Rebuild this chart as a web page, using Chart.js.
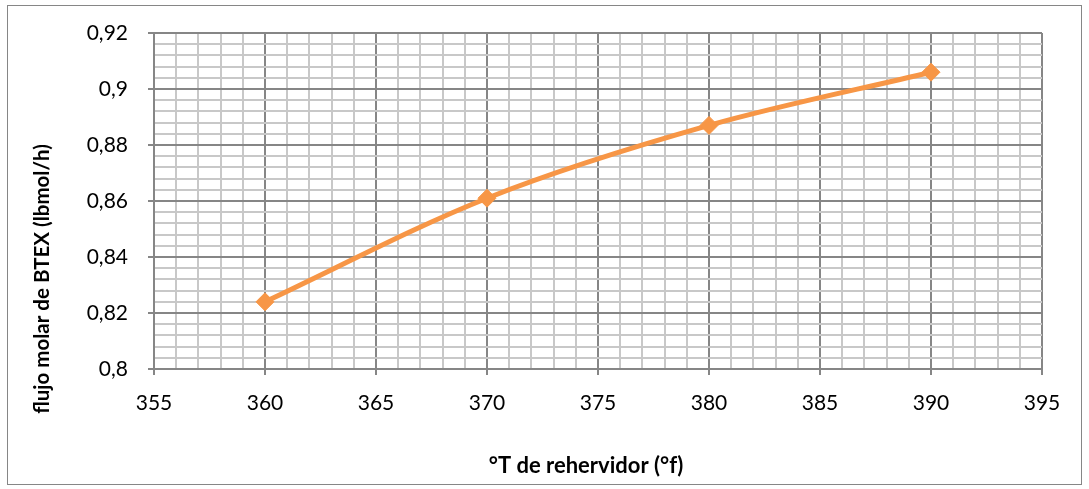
<!DOCTYPE html>
<html>
<head>
<meta charset="utf-8">
<script src="https://cdn.jsdelivr.net/npm/chart.js@4"></script>
<style>
    body { margin: 0; background: #fff; }
    #frame {
        position: absolute; left: 7px; top: 5px;
        width: 1073px; height: 478px;
        border: 1px solid #868686;
    }
    #chart { position: absolute; left: 0; top: 0; }
</style>
</head>
<body>
<div id="frame"></div>
<canvas id="chart" width="1089" height="489"></canvas>
<script>
// data
const temps = [360, 370, 380, 390];
const flujo = [0.824, 0.861, 0.887, 0.906];
const xTitle = '°T de rehervidor (°f)';
const yTitle = 'flujo molar de BTEX (lbmol/h)';

const orange = '#F79646';
const major = '#868686';
const minor = '#C8C8C8';

// axis titles drawn by hand so they sit where Excel puts them
const axisTitles = {
    id: 'axisTitles',
    afterDraw(chart) {
        const ctx = chart.ctx;
        ctx.save();
        ctx.fillStyle = '#000';
        ctx.textAlign = 'center';
        ctx.textBaseline = 'middle';
        ctx.font = 'bold 22px Lato';
        ctx.fillText(xTitle, 586, 466);
        ctx.font = 'bold 20.5px Lato';
        ctx.translate(42, 279);
        ctx.rotate(-Math.PI / 2);
        ctx.fillText(yTitle, 0, 0);
        ctx.restore();
    }
};

const isMajor = c => c.index % 5 === 0;

new Chart(document.getElementById('chart'), {
    type: 'line',
    data: {
        datasets: [{
            data: temps.map((t, i) => ({ x: t, y: flujo[i] })),
            borderColor: orange,
            backgroundColor: orange,
            borderWidth: 5,
            tension: 0.33,
            pointStyle: 'rectRot',
            pointRadius: 9,
            pointBorderWidth: 1,
            pointBorderColor: orange,
            pointBackgroundColor: orange
        }]
    },
    options: {
        responsive: false,
        devicePixelRatio: 1,
        animation: false,
        layout: { padding: { top: 33, right: 47, left: 0, bottom: 0 } },
        plugins: {
            legend: { display: false },
            tooltip: { enabled: false }
        },
        scales: {
            x: {
                type: 'linear',
                min: 355,
                max: 395,
                afterFit: s => { s.height = 120; },
                border: { color: major, width: 2 },
                grid: {
                    color: c => isMajor(c) ? major : minor,
                    lineWidth: 2,
                    tickColor: c => isMajor(c) ? major : 'rgba(0,0,0,0)',
                    tickLength: 6
                },
                ticks: {
                    stepSize: 1,
                    autoSkip: false,
                    maxRotation: 0,
                    minRotation: 0,
                    padding: 16,
                    color: '#000',
                    font: { family: 'Lato', size: 21 },
                    callback: (v, i) => i % 5 === 0 ? String(v) : ''
                }
            },
            y: {
                min: 0.8,
                max: 0.92,
                afterFit: s => { s.width = 154; },
                border: { color: major, width: 2 },
                grid: {
                    color: c => isMajor(c) ? major : minor,
                    lineWidth: 2,
                    tickColor: c => isMajor(c) ? major : 'rgba(0,0,0,0)',
                    tickLength: 6
                },
                ticks: {
                    stepSize: 0.004,
                    autoSkip: false,
                    padding: 20,
                    color: '#000',
                    font: { family: 'Lato', size: 21 },
                    callback: (v, i) => i % 5 === 0 ? String(Math.round(v * 100) / 100).replace('.', ',') : ''
                }
            }
        }
    },
    plugins: [axisTitles]
});
</script>
</body>
</html>
